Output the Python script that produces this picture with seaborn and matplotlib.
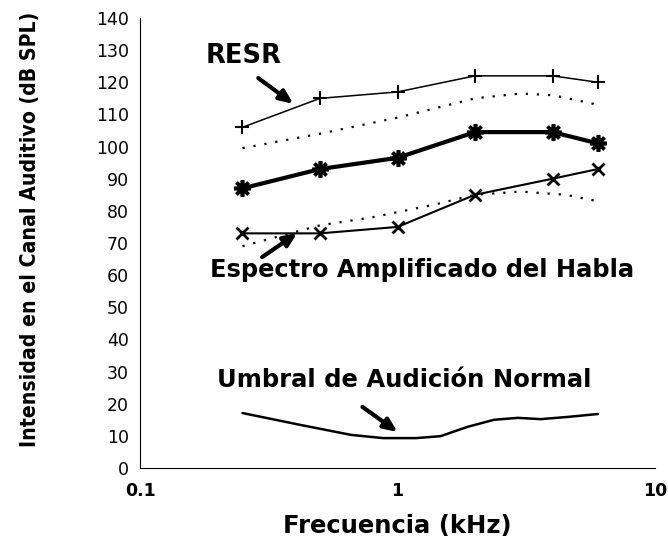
import matplotlib
matplotlib.use("Agg")
import matplotlib.pyplot as plt
import seaborn as sns
import pandas as pd
from matplotlib.ticker import LogLocator, FixedFormatter, NullFormatter

# ---- data ----
freq_main = [0.25, 0.5, 1, 2, 4, 6]
resr = [106, 115, 117, 122, 122, 120]
speech_amp = [87, 93, 96.5, 104.5, 104.5, 101]
speech_low = [73, 73, 75, 85, 90, 93]

freq_resr_dot = [0.25, 0.5, 1, 2, 3, 4, 6]
resr_dot = [99.5, 104, 109, 115, 116.5, 116, 113]

freq_low_dot = [0.25, 0.5, 0.8, 1.4, 2, 3, 4.5, 6]
low_dot = [69, 75.5, 78, 82, 85, 86, 85, 83]

freq_thr = [0.25, 0.42, 0.66, 0.88, 1.18, 1.47, 1.87, 2.37, 2.93, 3.6, 4.6, 6]
threshold = [17.1, 13.4, 10.3, 9.3, 9.3, 9.9, 12.8, 15.0, 15.6, 15.2, 15.9, 16.8]

yticks = [0, 10, 20, 30, 40, 50, 60, 70, 80, 90, 100, 110, 120, 130, 140]
xticks = [0.1, 1, 10]
xticklabels = ["0.1", "1", "10"]

ylabel = "Intensidad en el Canal Auditivo (dB SPL)"
xlabel = "Frecuencia (kHz)"
lbl_resr = "RESR"
lbl_speech = "Espectro Amplificado del Habla"
lbl_thr = "Umbral de Audición Normal"

sns.set_style("white")
plt.rcParams['font.family'] = ['DejaVu Sans']
plt.rcParams['text.color'] = 'black'
plt.rcParams['axes.labelcolor'] = 'black'
plt.rcParams['xtick.color'] = 'black'
plt.rcParams['ytick.color'] = 'black'

fig = plt.figure(figsize=(6.68, 5.40), dpi=100)
ax = fig.add_axes([140/668, 72/540, 515/668, 450/540])

df_main = pd.DataFrame({"f": freq_main, "resr": resr, "sp": speech_amp, "lo": speech_low})
df_rd = pd.DataFrame({"f": freq_resr_dot, "v": resr_dot})
df_ld = pd.DataFrame({"f": freq_low_dot, "v": low_dot})
df_thr = pd.DataFrame({"f": freq_thr, "v": threshold})

mk = dict(markeredgecolor="black", markerfacecolor="black")
sns.lineplot(data=df_main, x="f", y="resr", ax=ax, color="black", lw=1.1,
             marker="+", markersize=10, markeredgewidth=1.5, **mk)
sns.lineplot(data=df_rd, x="f", y="v", ax=ax, color="black", lw=1.6,
             linestyle=(0, (1, 4)))
sns.lineplot(data=df_main, x="f", y="sp", ax=ax, color="black", lw=3.0,
             marker=(8, 2, 0), markersize=12, markeredgewidth=2.6, **mk)
sns.lineplot(data=df_main, x="f", y="lo", ax=ax, color="black", lw=1.5,
             marker="x", markersize=8.5, markeredgewidth=2.0, **mk)
sns.lineplot(data=df_ld, x="f", y="v", ax=ax, color="black", lw=1.6,
             linestyle=(0, (1, 4)))
sns.lineplot(data=df_thr, x="f", y="v", ax=ax, color="black", lw=1.8)

ax.set_xscale("log")
ax.set_xlim(0.1, 10)
ax.set_ylim(0, 140)
ax.set_xticks(xticks)
ax.xaxis.set_major_formatter(FixedFormatter(xticklabels))
ax.xaxis.set_minor_locator(LogLocator(base=10, subs=range(2, 10)))
ax.xaxis.set_minor_formatter(NullFormatter())
ax.set_yticks(yticks)

for s in ["top", "right"]:
    ax.spines[s].set_visible(False)
for s in ["left", "bottom"]:
    ax.spines[s].set_color("black")
    ax.spines[s].set_linewidth(0.8)

ax.tick_params(axis="y", direction="in", length=5, width=0.8, labelsize=12.5, pad=8)
ax.tick_params(axis="x", which="major", direction="in", length=5, width=0.8,
               labelsize=12.5, pad=10)
ax.tick_params(axis="x", which="minor", direction="in", length=3, width=0.6)
for t in ax.get_xticklabels():
    t.set_fontweight("bold")

ax.set_xlabel(xlabel, fontsize=17.5, fontweight="bold", labelpad=10)
ax.set_ylabel(ylabel, fontsize=15.2, fontweight="bold", fontstretch="condensed")
ax.yaxis.set_label_coords(-0.195, 0.53)

ax.text(0.253, 126, lbl_resr, fontsize=18.5, fontweight="bold", ha="center", va="baseline")
ax.text(1.25, 59.4, lbl_speech, fontsize=17.4, fontweight="bold", ha="center", va="baseline")
ax.text(1.065, 25.2, lbl_thr, fontsize=17.5, fontweight="bold", ha="center", va="baseline")

arrow = dict(arrowstyle="-|>,head_length=0.8,head_width=0.35", color="black", lw=3.0,
             shrinkA=0, shrinkB=0)
ax.annotate("", xy=(0.394, 113.3), xytext=(0.288, 121.3), arrowprops=arrow)
ax.annotate("", xy=(0.408, 73.1), xytext=(0.298, 65.6), arrowprops=arrow)
ax.annotate("", xy=(1.0, 11.2), xytext=(0.731, 19.0), arrowprops=arrow)

fig.savefig("out.png", dpi=100)
